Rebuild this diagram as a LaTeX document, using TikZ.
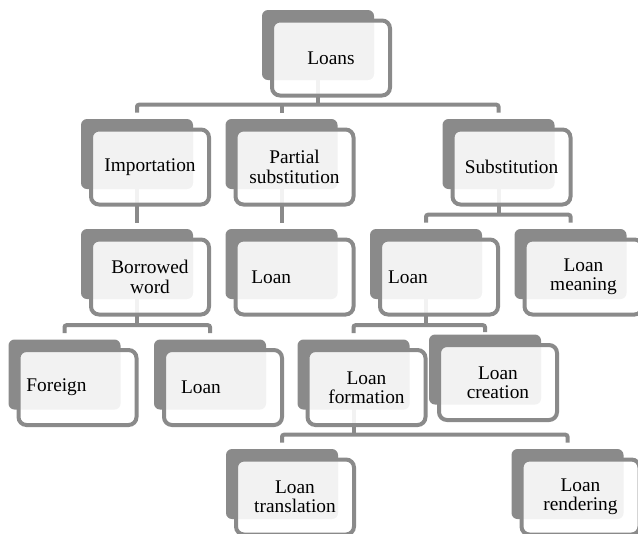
\documentclass[tikz,border=0pt]{standalone}
\usepackage{fontspec}
\setmainfont{Liberation Serif}
\usepackage{tikz}
\usetikzlibrary{backgrounds}

\definecolor{boxgray}{HTML}{8A8A8A}

\begin{document}
\begin{tikzpicture}[
  x=0.75pt, y=-0.75pt,
  backbox/.style={fill=boxgray, rounded corners=4.5pt, minimum width=84pt,
    minimum height=52.5pt, inner sep=0pt},
  frontbox/.style={draw=boxgray, line width=3pt, fill=white, fill opacity=0.89,
    text opacity=1, rounded corners=6pt, minimum width=88.5pt,
    minimum height=56.25pt, inner sep=2pt, align=center,
    font=\fontsize{14.5}{14.5}\selectfont},
  link/.style={draw=boxgray, line width=3pt, rounded corners=1.5pt}
]
  \useasboundingbox (0,0) rectangle (638,533);
  \clip (0,0) rectangle (638,533);

  % --- row: top
  \node[backbox] (loans) at (318,45) {};
  \node[frontbox] (loans-txt) at ([shift={(13,13)}]loans.center) {Loans};

  % --- row: second level
  \node[backbox] (import) at (137,154) {};
  \node[frontbox] (import-txt) at ([shift={(13,13)}]import.center) {Importation};
  \node[backbox] (partial) at (281.5,154) {};
  \node[frontbox] (partial-txt) at ([shift={(13,13)}]partial.center) {Partial\\substitution};
  \node[backbox] (subst) at (498.5,154) {};
  \node[frontbox] (subst-txt) at ([shift={(13,13)}]subst.center) {Substitution};

  % --- row: third level
  \node[backbox] (borrowed) at (137,264) {};
  \node[frontbox] (borrowed-txt) at ([shift={(13,13)}]borrowed.center) {Borrowed\\word};
  \node[backbox] (loanp) at (281.5,264) {};
  \node[frontbox] (loanp-txt) at ([shift={(13,13)}]loanp.center) {Loan\hspace*{35pt}};
  \node[backbox] (loansub) at (426,264) {};
  \node[frontbox] (loansub-txt) at ([shift={(13,13)}]loansub.center) {Loan\hspace*{46.5pt}};
  \node[backbox] (meaning) at (570.5,264) {};
  \node[frontbox] (meaning-txt) at ([shift={(13,13)}]meaning.center) {Loan\\meaning};

  % --- row: fourth level
  \node[backbox] (foreign) at (64.5,374.5) {};
  \node[frontbox] (foreign-txt) at ([shift={(13,13)}]foreign.center) {Foreign\hspace*{31.5pt}};
  \node[backbox] (loanb) at (210,374.5) {};
  \node[frontbox] (loanb-txt) at ([shift={(13,13)}]loanb.center) {Loan\hspace*{33pt}};
  \node[backbox] (formation) at (353.5,374.5) {};
  \node[frontbox] (formation-txt) at ([shift={(13,13)}]formation.center) {Loan\\formation};
  \node[backbox] (creation) at (485,369.5) {};
  \node[frontbox] (creation-txt) at ([shift={(13,13)}]creation.center) {Loan\\creation};

  % --- row: bottom
  \node[backbox] (translation) at (282,484) {};
  \node[frontbox] (translation-txt) at ([shift={(13,13)}]translation.center) {Loan\\translation};
  \node[backbox] (rendering) at (567.5,484) {};
  \node[frontbox] (rendering-txt) at ([shift={(13,13)}]rendering.center) {Loan\\rendering};

  % connectors (behind the cards)
  \begin{scope}[on background layer]
    \coordinate (bus1) at ([yshift=10.5pt]partial.north);
    \draw[link] (loans.center) -- (loans.center |- bus1);
    \draw[link] ([yshift=4.5pt]import.north) |- ([yshift=10.5pt]subst.north)
      -- ([yshift=4.5pt]subst.north);
    \draw[link] (bus1) -- ([yshift=4.5pt]partial.north);

    \draw[link] (import.center) -- ([yshift=4.5pt]borrowed.north);
    \draw[link] (partial.center) -- ([yshift=4.5pt]loanp.north);

    \coordinate (bus2) at ([yshift=10.5pt]loansub.north);
    \draw[link] (subst.center) -- (subst.center |- bus2);
    \draw[link] ([yshift=4.5pt]loansub.north) |- ([yshift=10.5pt]meaning.north)
      -- ([yshift=4.5pt]meaning.north);

    \coordinate (bus3) at ([yshift=10.5pt]foreign.north);
    \draw[link] (borrowed.center) -- (borrowed.center |- bus3);
    \draw[link] ([yshift=4.5pt]foreign.north) |- ([yshift=10.5pt]loanb.north)
      -- ([yshift=4.5pt]loanb.north);

    \coordinate (bus4) at ([yshift=10.5pt]formation.north);
    \draw[link] (loansub.center) -- (loansub.center |- bus4);
    \draw[link] ([yshift=4.5pt]formation.north) |- (bus4 -| creation.north)
      -- ([yshift=1.5pt]creation.north);

    \coordinate (bus5) at ([yshift=10.5pt]translation.north);
    \draw[link] (formation.center) -- (formation.center |- bus5);
    \draw[link] ([yshift=4.5pt]translation.north) |- ([yshift=10.5pt]rendering.north)
      -- ([yshift=4.5pt]rendering.north);
  \end{scope}
\end{tikzpicture}
\end{document}
